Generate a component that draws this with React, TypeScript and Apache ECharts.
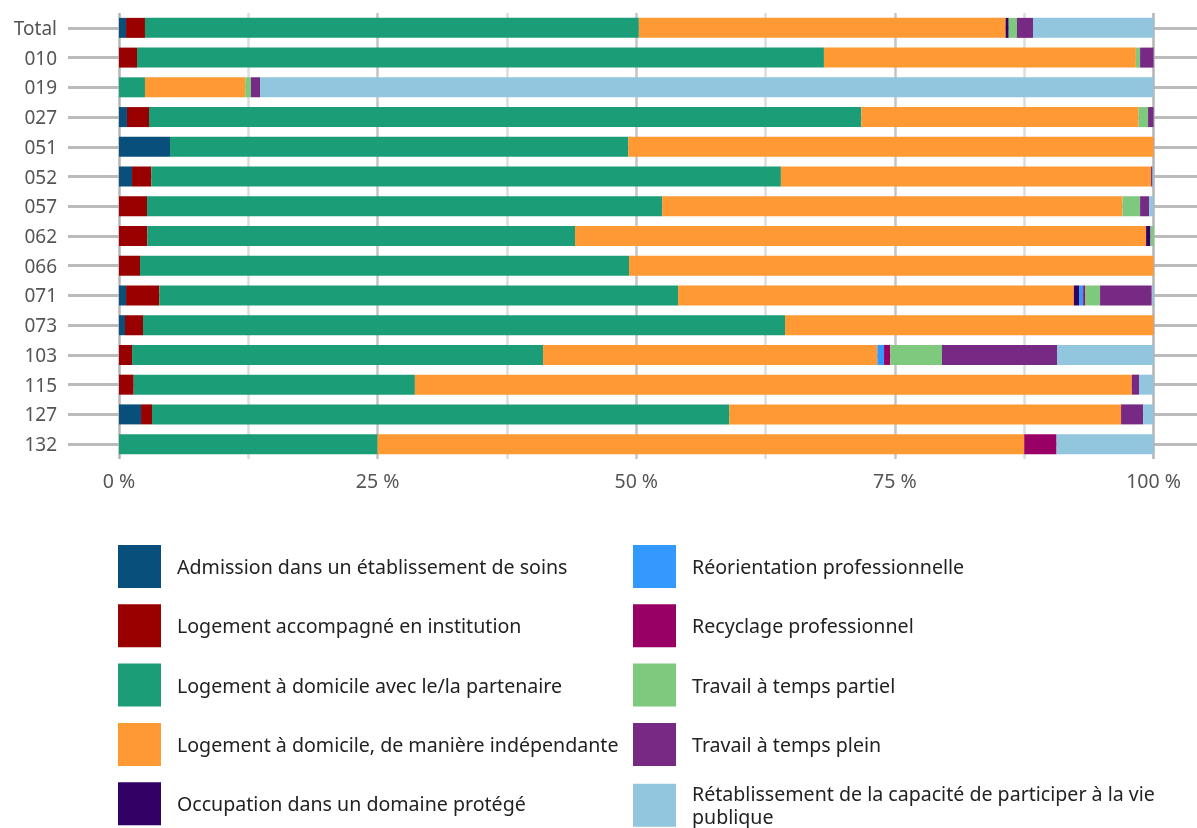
import React, { useEffect, useRef } from "react";
import * as echarts from "echarts";

const categories = ["Total", "010", "019", "027", "051", "052", "057", "062", "066", "071", "073", "103", "115", "127", "132"];

const seriesNames = [
  "Admission dans un établissement de soins",
  "Logement accompagné en institution",
  "Logement à domicile avec le/la partenaire",
  "Logement à domicile, de manière indépendante",
  "Occupation dans un domaine protégé",
  "Réorientation professionnelle",
  "Recyclage professionnel",
  "Travail à temps partiel",
  "Travail à temps plein",
  "Rétablissement de la capacité de participer à la vie publique",
];

const admission = [0.68, 0, 0, 0.77, 4.93, 1.26, 0, 0, 0, 0.68, 0.58, 0, 0, 2.13, 0];
const institution = [1.83, 1.74, 0, 2.13, 0, 1.87, 2.71, 2.74, 2.03, 3.22, 1.74, 1.26, 1.42, 1.06, 0];
const partner = [47.74, 66.4, 2.51, 68.85, 44.29, 60.85, 49.79, 41.34, 47.27, 50.14, 62.06, 39.73, 27.18, 55.81, 25];
const independent = [35.45, 30.15, 9.69, 26.8, 50.78, 35.78, 44.5, 55.2, 50.7, 38.26, 35.62, 32.31, 69.3, 37.86, 62.5];
const protectedWork = [0.3, 0, 0, 0, 0, 0, 0, 0.42, 0, 0.5, 0, 0, 0, 0, 0];
const reorientation = [0, 0, 0, 0, 0, 0, 0, 0, 0, 0.4, 0, 0.65, 0, 0, 0];
const retraining = [0, 0, 0, 0, 0, 0, 0, 0, 0, 0.17, 0, 0.6, 0, 0, 3.125];
const partTime = [0.8, 0.41, 0.56, 0.92, 0, 0, 1.7, 0.3, 0, 1.46, 0, 5.0, 0, 0, 0];
const fullTime = [1.55, 1.3, 0.87, 0.53, 0, 0.14, 0.87, 0, 0, 5.0, 0, 11.12, 0.7, 2.13, 0];
const participation = [11.65, 0, 86.37, 0, 0, 0.1, 0.43, 0, 0, 0.15, 0, 9.33, 1.4, 1.01, 9.375];

const seriesValues = [admission, institution, partner, independent, protectedWork, reorientation, retraining, partTime, fullTime, participation];

const colors = ["#084f7b", "#990000", "#1b9e77", "#ff9933", "#330066", "#3399ff", "#990066", "#7fc97f", "#762a83", "#92c5de"];

const tickLabels = [0, 25, 50, 75, 100];
const gridLines = [0, 12.5, 25, 37.5, 50, 62.5, 75, 87.5, 100];

const FONT = "'Noto Sans', sans-serif";

export default function App() {
  const ref = useRef<HTMLDivElement>(null);
  useEffect(() => {
    if (!ref.current) return;
    const chart = echarts.init(ref.current, null, { renderer: "svg" });

    const bars = seriesNames.map((name, i) => ({
      name,
      type: "bar",
      stack: "total",
      barWidth: 20,
      z: 2,
      itemStyle: { color: colors[i] },
      data: seriesValues[i],
    }));

    const lineSeries = {
      name: "__lines",
      type: "line",
      data: [],
      silent: true,
      markLine: {
        z: 1,
        silent: true,
        symbol: ["none", "none"],
        label: { show: false },
        animation: false,
        data: [
          ...categories.map((c) => ({ yAxis: c, lineStyle: { color: "#bbbbbb", width: 3, type: "solid" } })),
          ...gridLines.map((v) => ({
            xAxis: v,
            lineStyle: {
              color: v === 0 || v === 100 ? "#b4b4b4" : v % 25 === 0 ? "#c4c4c4" : "#dcdcdc",
              width: 2.5,
              type: "solid",
            },
          })),
        ],
      },
    };

    const legendItem = (names: string[], left: number) => ({
      orient: "vertical",
      left,
      top: 545,
      height: 300,
      padding: 0,
      icon: "rect",
      itemWidth: 43,
      itemHeight: 43,
      itemGap: 16.3,
      data: names,
      selectedMode: false,
      formatter: (n: string) =>
        n === seriesNames[9] ? "Rétablissement de la capacité de participer à la vie\npublique" : n,
      textStyle: {
        fontFamily: FONT,
        fontSize: 19.6,
        color: "#222",
        lineHeight: 23,
        padding: [0, 0, 0, 11],
      },
    });

    chart.setOption({
      animation: false,
      textStyle: { fontFamily: FONT },
      grid: { left: 68, right: 0, top: 13, bottom: 369, containLabel: false },
      xAxis: {
        type: "value",
        min: -4.93,
        max: 104.2,
        axisLine: { show: false },
        axisTick: { show: false },
        splitLine: { show: false },
        axisLabel: {
          customValues: tickLabels,
          formatter: (v: number) => `${v} %`,
          fontFamily: FONT,
          fontSize: 19.5,
          color: "#555",
          margin: 11,
        },
      },
      yAxis: {
        type: "category",
        inverse: true,
        data: categories,
        axisLine: { show: false },
        axisTick: { show: false },
        splitLine: { show: false },
        axisLabel: { fontFamily: FONT, fontSize: 19, color: "#555", margin: 11 },
      },
      legend: [legendItem(seriesNames.slice(0, 5), 118), legendItem(seriesNames.slice(5), 633)],
      series: [lineSeries, ...bars],
    });
    return () => chart.dispose();
  }, []);
  return <div ref={ref} style={{ position: "fixed", left: 0, top: 0, width: 1197, height: 828 }} />;
}
